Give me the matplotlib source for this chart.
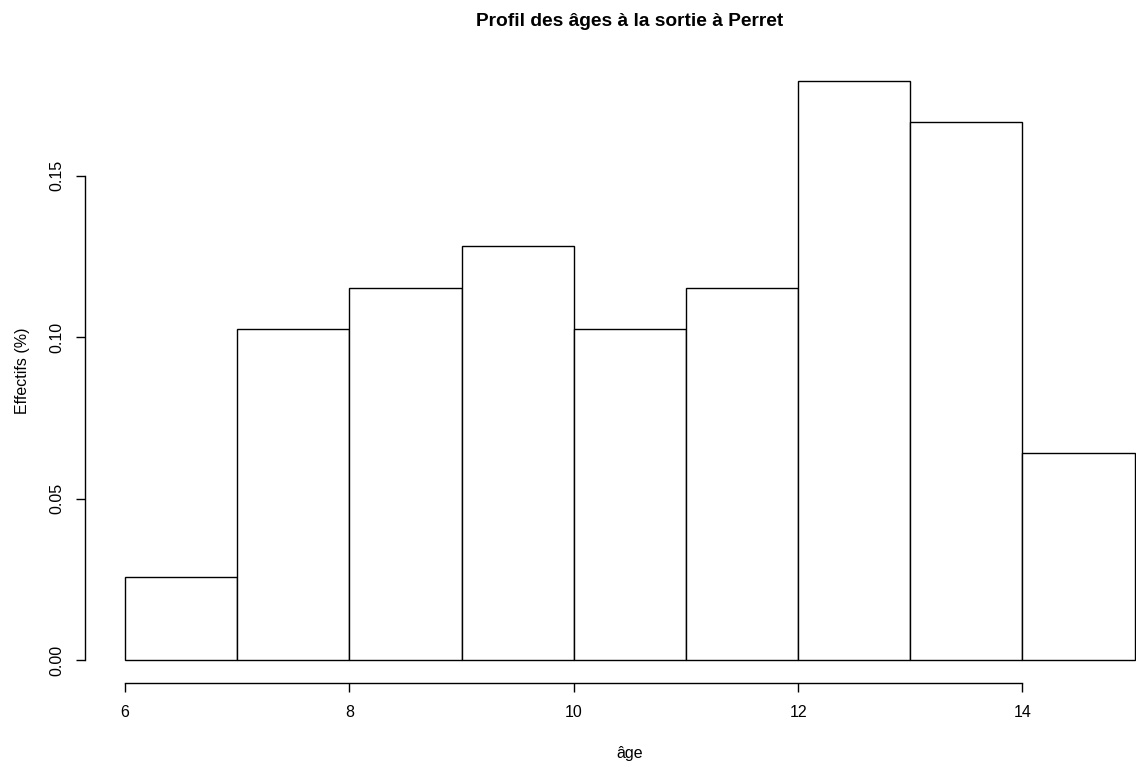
import numpy as np
import matplotlib
matplotlib.use('Agg')
import matplotlib.pyplot as plt

# données : classes d'âge et densités (effectifs / 78)
bords = [6, 7, 8, 9, 10, 11, 12, 13, 14, 15]
densite = [2/78, 8/78, 9/78, 10/78, 8/78, 9/78, 14/78, 13/78, 5/78]
xticks = [6, 8, 10, 12, 14]
yticks = [0.00, 0.05, 0.10, 0.15]
ylabels = ['0.00', '0.05', '0.10', '0.15']

plt.rcParams['font.family'] = ['Liberation Sans', 'DejaVu Sans']

fig = plt.figure(figsize=(11.36, 7.67), dpi=100)
W, H = 1136, 767
# zone de tracé façon R (usr étendu de 4 %), coupée à droite
left, right, top, bottom = 84.6, 1175.0, 57.6, 683.2
ax = fig.add_axes([left / W, 1 - bottom / H, (right - left) / W, (bottom - top) / H])

largeurs = np.diff(bords)
ax.bar(bords[:-1], densite, width=largeurs, align='edge',
       facecolor='white', edgecolor='black', linewidth=1.0)

xr = bords[-1] - bords[0]
ax.set_xlim(bords[0] - 0.04 * xr, bords[-1] + 0.04 * xr)
ymax = max(densite)
ax.set_ylim(-0.04 * ymax, ymax * 1.04)

for s in ['top', 'right']:
    ax.spines[s].set_visible(False)
ax.spines['bottom'].set_bounds(xticks[0], xticks[-1])
ax.spines['left'].set_bounds(yticks[0], yticks[-1])
for s in ['bottom', 'left']:
    ax.spines[s].set_linewidth(1.0)

ax.set_xticks(xticks)
ax.set_yticks(yticks)
ax.set_yticklabels(ylabels, rotation=90, va='center')
ax.tick_params(axis='both', direction='out', length=6.5, width=1.0,
               labelsize=11.5, colors='black')
ax.tick_params(axis='x', pad=9)
ax.tick_params(axis='y', pad=8)

ax.set_xlabel('âge', fontsize=11.5, labelpad=19)
ax.set_ylabel('Effectifs (%)', fontsize=11.5, labelpad=14)
ax.set_title('Profil des âges à la sortie à Perret', fontsize=13.8,
             fontweight='bold', pad=23)

fig.savefig('out.png', dpi=100)
